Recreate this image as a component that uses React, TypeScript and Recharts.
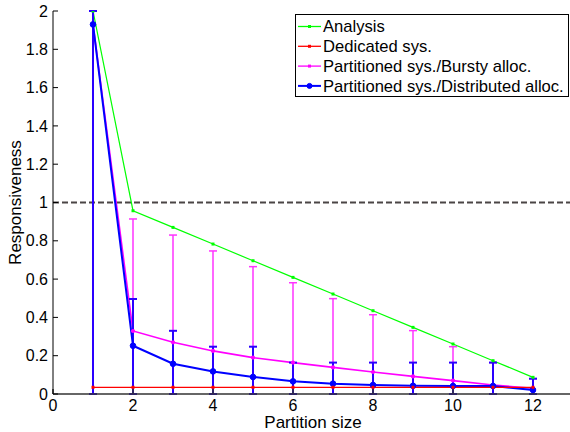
import React from 'react';
import { LineChart, Line, XAxis, YAxis, ErrorBar, ReferenceLine, Legend, Label } from 'recharts';

const partitionSizes = [1, 2, 3, 4, 5, 6, 7, 8, 9, 10, 11, 12];
const analysis = [2.0, 0.957, 0.87, 0.783, 0.696, 0.609, 0.522, 0.435, 0.348, 0.261, 0.174, 0.087];
const dedicated = [0.035, 0.035, 0.035, 0.035, 0.035, 0.035, 0.035, 0.035, 0.035, 0.035, 0.035, 0.035];
const burstyMean = [1.93, 0.329, 0.27, 0.225, 0.19, 0.164, 0.139, 0.115, 0.092, 0.07, 0.047, 0.03];
const burstyLow = [0, 0, 0, 0, 0, 0, 0, 0, 0, 0, 0, 0];
const burstyHigh = [2.0, 0.914, 0.83, 0.747, 0.665, 0.581, 0.498, 0.414, 0.331, 0.247, 0.164, 0.08];
const distMean = [1.93, 0.252, 0.158, 0.118, 0.089, 0.066, 0.054, 0.047, 0.043, 0.042, 0.042, 0.021];
const distLow = [0, 0, 0, 0, 0, 0, 0, 0, 0, 0, 0, 0];
const distHigh = [2.0, 0.496, 0.33, 0.247, 0.247, 0.164, 0.164, 0.164, 0.164, 0.164, 0.164, 0.08];

const xTicks = [0, 2, 4, 6, 8, 10, 12];
const yTicks = [0, 0.2, 0.4, 0.6, 0.8, 1, 1.2, 1.4, 1.6, 1.8, 2];
const threshold = 1;

const seriesNames = [
  'Analysis',
  'Dedicated sys.',
  'Partitioned sys./Bursty alloc.',
  'Partitioned sys./Distributed alloc.',
];
const colors = ['#00ff00', '#ff0000', '#ff00ff', '#0000ff'];

const data = partitionSizes.map((x, i) => ({
  x,
  analysis: analysis[i],
  dedicated: dedicated[i],
  bursty: burstyMean[i],
  burstyErr: [burstyMean[i] - burstyLow[i], burstyHigh[i] - burstyMean[i]],
  dist: distMean[i],
  distErr: [distMean[i] - distLow[i], distHigh[i] - distMean[i]],
}));

const FONT = '"Liberation Sans", Arial, Helvetica, sans-serif';

function LegendBox() {
  return (
    <svg width={274} height={84} style={{ display: 'block' }}>
      <rect x={0.5} y={0.5} width={273} height={82} fill="#fff" stroke="#000" strokeWidth={1} />
      {seriesNames.map((name, i) => {
        const cy = 12.5 + i * 19.8;
        const c = colors[i];
        return (
          <g key={name}>
            <line x1={3} x2={26} y1={cy} y2={cy} stroke={c} strokeWidth={i === 3 ? 2 : 1.3} />
            {i === 3 ? (
              <circle cx={14.5} cy={cy} r={2.5} fill={c} stroke={c} />
            ) : (
              <rect x={13} y={cy - 1.5} width={3} height={3} fill={c} />
            )}
            <text x={28} y={cy} dy="0.36em" fontSize={16.6} fontFamily={FONT} fill="#000">
              {name}
            </text>
          </g>
        );
      })}
    </svg>
  );
}

const squareDot = (color: string, size: number) => (p: any) => (
  <rect key={`d-${color}-${p.index}`} x={p.cx - size / 2} y={p.cy - size / 2} width={size} height={size} fill={color} />
);

export default function App() {
  return (
    <div style={{ position: 'fixed', left: 0, top: 0, width: 570, height: 432, overflow: 'hidden', background: '#fff' }}>
      <LineChart
        width={580}
        height={432}
        data={data}
        margin={{ top: 11, right: 7, bottom: 0, left: 5 }}
        style={{ fontFamily: FONT }}
      >
        <XAxis
          dataKey="x"
          type="number"
          domain={[0, 13]}
          ticks={xTicks}
          height={38}
          tickSize={-5}
          tickMargin={11}
          stroke="#333"
          strokeWidth={1.5}
          tick={{ fill: '#000', fontSize: 16, fontFamily: FONT }}
          allowDataOverflow
        >
          <Label value="Partition size" position="insideBottom" offset={4} fill="#000" fontSize={17} fontFamily={FONT} />
        </XAxis>
        <YAxis
          type="number"
          domain={[0, 2]}
          ticks={yTicks}
          width={48}
          tickSize={-5}
          tickMargin={10}
          stroke="#000"
          tick={{ fill: '#000', fontSize: 16, fontFamily: FONT }}
          allowDataOverflow
        >
          <Label
            content={(props: any) => {
              const vb = props.viewBox || { x: 5, y: 11, width: 48, height: 383 };
              const cx = 15;
              const cy = vb.y + vb.height / 2;
              return (
                <text
                  x={cx}
                  y={cy}
                  transform={`rotate(-90 ${cx} ${cy})`}
                  textAnchor="middle"
                  dy="0.36em"
                  fontSize={17}
                  fontFamily={FONT}
                  fill="#000"
                >
                  Responsiveness
                </text>
              );
            }}
          />
        </YAxis>
        <ReferenceLine y={threshold} stroke="#4a4545" strokeWidth={2} strokeDasharray="6 3" />
        <Line
          dataKey="analysis"
          stroke={colors[0]}
          strokeWidth={1.2}
          dot={squareDot(colors[0], 3)}
          isAnimationActive={false}
          name={seriesNames[0]}
        />
        <Line
          dataKey="bursty"
          stroke={colors[2]}
          strokeWidth={1.6}
          dot={{ r: 1.3, fill: colors[2], stroke: colors[2] }}
          isAnimationActive={false}
          name={seriesNames[2]}
        >
          <ErrorBar dataKey="burstyErr" direction="y" width={4} stroke="#ff33ff" strokeWidth={1.5} isAnimationActive={false} />
        </Line>
        <Line
          dataKey="dist"
          stroke={colors[3]}
          strokeWidth={2}
          dot={{ r: 2.8, fill: colors[3], stroke: colors[3], strokeWidth: 1 }}
          isAnimationActive={false}
          name={seriesNames[3]}
        >
          <ErrorBar dataKey="distErr" direction="y" width={4} stroke="#2a00ff" strokeWidth={2} isAnimationActive={false} />
        </Line>
        <Line
          dataKey="dedicated"
          stroke={colors[1]}
          strokeWidth={1.3}
          dot={squareDot(colors[1], 3)}
          isAnimationActive={false}
          name={seriesNames[1]}
        />
        <Legend
          layout="horizontal"
          verticalAlign="middle"
          align="center"
          content={() => <LegendBox />}
          wrapperStyle={{ position: 'absolute', left: 295, top: 14, width: 274, height: 84 }}
        />
      </LineChart>
    </div>
  );
}
